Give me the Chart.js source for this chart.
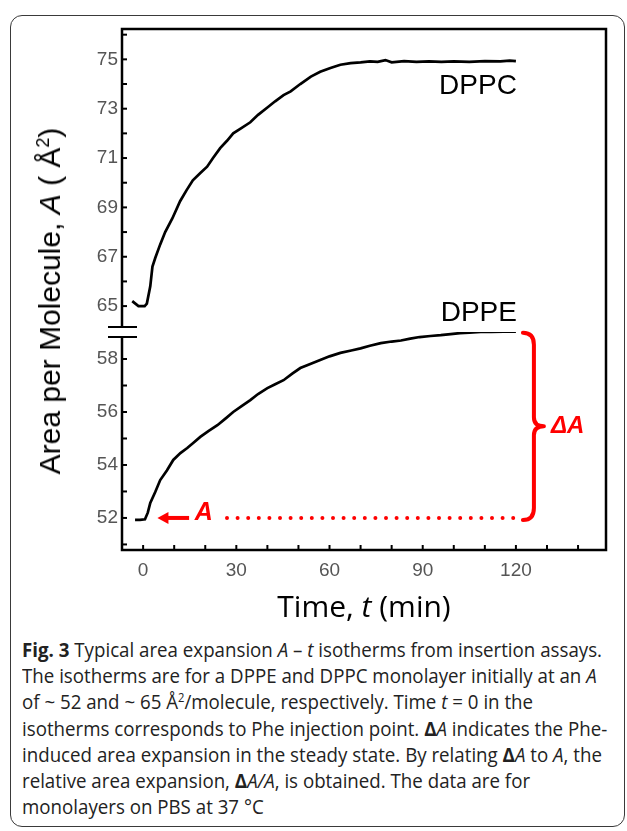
<!DOCTYPE html>
<html>
<head>
<meta charset="utf-8">
<script src="https://cdn.jsdelivr.net/npm/chart.js@4.4.1/dist/chart.umd.min.js"></script>
<style>
  html, body { margin: 0; padding: 0; background: #fff; }
  body { width: 627px; height: 831px; position: relative; overflow: hidden; }
  #frame { position: absolute; left: 10px; top: 15px; width: 615px; height: 812px;
           border: 1.5px solid #3a3a3a; border-radius: 12px; box-sizing: border-box; }
  #c { position: absolute; left: 0; top: 0; }
  #ytitle { position: absolute; left: 50px; top: 301px; white-space: nowrap;
            transform: translate(-50%, -50%) rotate(-90deg);
            font: 30px "Liberation Sans", Arial, sans-serif; color: #000; }
  #xtitle { position: absolute; left: 364px; top: 605px; white-space: nowrap;
            transform: translate(-50%, -50%); font: 30px "Open Sans", sans-serif; color: #000; }
  #caption { position: absolute; left: 22px; top: 637px; white-space: nowrap;
             font: 19.5px/26.2px "Open Sans", sans-serif; color: #222; transform-origin: 0 0; }
  sup { font-size: 60%; line-height: 0; }
</style>
</head>
<body>
<div id="frame"></div>
<canvas id="c" width="627" height="600"></canvas>
<div id="ytitle">Area per Molecule, <i>A</i> ( Å<sup>2</sup>)</div>
<div id="xtitle">Time, <i>t</i> (min)</div>
<div id="caption">
  <div><span id="line1"><b>Fig. 3</b> Typical area expansion <i>A</i> – <i>t</i> isotherms from insertion assays.</span></div>
  <div>The isotherms are for a DPPE and DPPC monolayer initially at an <i>A</i></div>
  <div>of ~ 52 and ~ 65 Å<sup>2</sup>/molecule, respectively. Time <i>t</i> = 0 in the</div>
  <div>isotherms corresponds to Phe injection point. <b>Δ</b><i>A</i> indicates the Phe-</div>
  <div>induced area expansion in the steady state. By relating <b>Δ</b><i>A</i> to <i>A</i>, the</div>
  <div>relative area expansion, <b>Δ</b><i>A/A</i>, is obtained. The data are for</div>
  <div>monolayers on PBS at 37 °C</div>
</div>
<script>
// values
const dppcTime = [-3.5, -2.5, -1.5, 0.5, 1.2, 2.3, 3.0, 3.9, 5.5, 7.1, 9.4, 11.9, 14, 16, 18.5, 20.6, 22.5, 24.8, 27, 29,
  31.5, 34.5, 37, 40, 42.5, 45.2, 47.5, 50.6, 54, 57, 60.3, 63.5, 66.8, 70, 73, 75.5, 78, 80, 84, 88,
  92, 96, 100, 105, 110, 115, 118, 120];
const dppcArea = [65.2, 65.1, 65.0, 65.0, 65.1, 65.8, 66.6, 66.95, 67.5, 68.0, 68.55, 69.25, 69.7, 70.1, 70.4, 70.65, 71.0, 71.4, 71.7, 72.0,
  72.2, 72.45, 72.75, 73.05, 73.3, 73.55, 73.7, 74.0, 74.3, 74.5, 74.65, 74.78, 74.85, 74.88, 74.92, 74.9, 74.97, 74.88, 74.93, 74.9,
  74.92, 74.9, 74.92, 74.9, 74.93, 74.92, 74.95, 74.93];

const dppeTime = [-2.6, -1, 0.6, 1.5, 2.3, 3.9, 5.5, 7.7, 9.7, 12, 14.2, 16.3, 18.4, 21, 23.9, 26.5, 29, 31.7, 34.5, 37,
  40, 42.5, 45.2, 48, 50.6, 54, 57, 60, 63.5, 67, 70, 73, 76.5, 80, 83, 86, 89, 92.5, 95.8, 99,
  102, 105, 108.7, 112, 116, 120];
const dppeArea = [51.93, 51.93, 51.95, 52.2, 52.57, 52.98, 53.43, 53.8, 54.19, 54.45, 54.64, 54.85, 55.06, 55.28, 55.5, 55.75, 56.0, 56.22, 56.45, 56.68,
  56.9, 57.05, 57.2, 57.45, 57.66, 57.82, 57.96, 58.1, 58.23, 58.32, 58.4, 58.5, 58.6, 58.66, 58.7, 58.77, 58.83, 58.87, 58.9, 58.94,
  58.98, 59.0, 59.02, 59.02, 59.03, 59.03];

const seriesNames = ["DPPC", "DPPE"];
const xTickLabels = [0, 30, 60, 90, 120];
const yTopTickLabels = [65, 67, 69, 71, 73, 75];
const yBotTickLabels = [52, 54, 56, 58];

const red = "#ff0000";
const tickFont = { family: '"Liberation Sans", Arial, sans-serif', size: 19 };

function toPoints(xs, ys) {
  return xs.map((x, i) => ({ x: x, y: ys[i] }));
}

function yScale(lo, hi, weight, labels) {
  return {
    type: "linear",
    position: "left",
    stack: "area",
    stackWeight: weight,
    min: lo,
    max: hi,
    grid: { display: false, drawTicks: false },
    border: { display: false },
    ticks: {
      stepSize: 1,
      includeBounds: false,
      autoSkip: false,
      padding: 4,
      color: "#555",
      font: tickFont,
      callback: (v) => (labels.includes(v) ? v : ""),
    },
    afterFit: (s) => { s.width = 122; },
  };
}

// frame, inward ticks, axis break and the red ΔA annotation
const decorations = {
  id: "decorations",
  afterDatasetsDraw(chart) {
    const { ctx, chartArea: a, scales } = chart;
    const xs = scales.x, yt = scales.yTop, yb = scales.yBot;
    const line = (x1, y1, x2, y2) => { ctx.beginPath(); ctx.moveTo(x1, y1); ctx.lineTo(x2, y2); ctx.stroke(); };
    ctx.save();
    ctx.strokeStyle = "#000";
    ctx.lineWidth = 2.5;
    ctx.strokeRect(a.left, a.top, a.right - a.left, a.bottom - a.top);

    ctx.lineWidth = 2;
    const tl = 5;
    xs.ticks.forEach((t) => {
      if (t.value % 10 !== 0) return;
      const px = xs.getPixelForValue(t.value);
      line(px, a.bottom, px, a.bottom - tl);
    });
    const brk = yt.bottom;
    [yt, yb].forEach((s) => {
      s.ticks.forEach((t) => {
        if (!Number.isInteger(t.value)) return;
        const py = s.getPixelForValue(t.value);
        if (Math.abs(py - brk) < 8) return;
        line(a.left, py, a.left + tl, py);
      });
    });

    // axis break
    ctx.fillStyle = "#fff";
    ctx.fillRect(a.left - 3, brk - 4, 6, 8);
    ctx.lineWidth = 2;
    line(a.left - 14, brk - 5, a.left + 15, brk - 5);
    line(a.left - 14, brk + 5, a.left + 15, brk + 5);

    // series labels
    ctx.fillStyle = "#000";
    ctx.font = '28px "Liberation Sans", Arial, sans-serif';
    ctx.textAlign = "right";
    ctx.textBaseline = "alphabetic";
    const xEnd = xs.getPixelForValue(120) + 1;
    ctx.fillText(seriesNames[0], xEnd, yt.getPixelForValue(75) + 35);
    ctx.fillText(seriesNames[1], xEnd, yb.getPixelForValue(dppeArea[dppeArea.length - 1]) - 11);

    // red annotation
    const yA = yb.getPixelForValue(52);
    const yTopA = yb.getPixelForValue(dppeArea[dppeArea.length - 1]) + 1;
    ctx.strokeStyle = red;
    ctx.fillStyle = red;
    const tip = xs.getPixelForValue(4.6), tail = xs.getPixelForValue(14.8);
    ctx.beginPath();
    ctx.moveTo(tip, yA);
    ctx.lineTo(tip + 11, yA - 6);
    ctx.lineTo(tip + 11, yA + 6);
    ctx.closePath();
    ctx.fill();
    ctx.lineWidth = 4;
    line(tip + 9, yA, tail, yA);

    ctx.font = 'italic bold 25px "Liberation Sans", Arial, sans-serif';
    ctx.textAlign = "left";
    ctx.fillText("A", xs.getPixelForValue(16.6), yA + 2);

    ctx.lineCap = "round";
    ctx.setLineDash([0, 10.6]);
    line(xs.getPixelForValue(27), yA, xs.getPixelForValue(119.5), yA);
    ctx.setLineDash([]);

    const xl = xs.getPixelForValue(120) + 7, xm = xl + 11, xr = xl + 21;
    const mid = (yTopA + yA + 2) / 2, bot = yA + 2;
    ctx.lineWidth = 4;
    ctx.lineJoin = "round";
    ctx.beginPath();
    ctx.moveTo(xl, yTopA);
    ctx.quadraticCurveTo(xm, yTopA, xm, yTopA + 12);
    ctx.lineTo(xm, mid - 9);
    ctx.quadraticCurveTo(xm, mid, xr, mid);
    ctx.quadraticCurveTo(xm, mid, xm, mid + 9);
    ctx.lineTo(xm, bot - 12);
    ctx.quadraticCurveTo(xm, bot, xl, bot);
    ctx.stroke();

    ctx.font = 'italic bold 24px "Liberation Sans", Arial, sans-serif';
    ctx.textBaseline = "middle";
    ctx.fillText("ΔA", xr + 7, mid);
    ctx.restore();
  },
};

new Chart(document.getElementById("c"), {
  type: "line",
  data: {
    datasets: [
      { label: seriesNames[0], data: toPoints(dppcTime, dppcArea), yAxisID: "yTop",
        borderColor: "#000", borderWidth: 2.7, pointRadius: 0, tension: 0, fill: false },
      { label: seriesNames[1], data: toPoints(dppeTime, dppeArea), yAxisID: "yBot",
        borderColor: "#000", borderWidth: 2.7, pointRadius: 0, tension: 0, fill: false },
    ],
  },
  options: {
    responsive: false,
    animation: false,
    devicePixelRatio: 1,
    layout: { padding: { top: 29, right: 21, left: 0, bottom: 0 } },
    plugins: { legend: { display: false }, tooltip: { enabled: false } },
    scales: {
      x: {
        type: "linear",
        min: -6.8,
        max: 149,
        grid: { display: false, drawTicks: false },
        border: { display: false },
        ticks: {
          stepSize: 10,
          includeBounds: false,
          autoSkip: false,
          maxRotation: 0,
          padding: 9,
          color: "#555",
          font: tickFont,
          callback: (v) => (xTickLabels.includes(v) ? v : ""),
        },
        afterFit: (s) => { s.height = 50; },
      },
      yBot: yScale(50.79, 59.02, 218, yBotTickLabels),
      yTop: yScale(63.95, 76.23, 303, yTopTickLabels),
    },
  },
  plugins: [decorations],
});

// squeeze the caption to the width of the printed one
const cap = document.getElementById("caption");
const w = document.getElementById("line1").getBoundingClientRect().width;
cap.style.transform = "scaleX(" + (580 / w) + ")";
</script>
</body>
</html>
